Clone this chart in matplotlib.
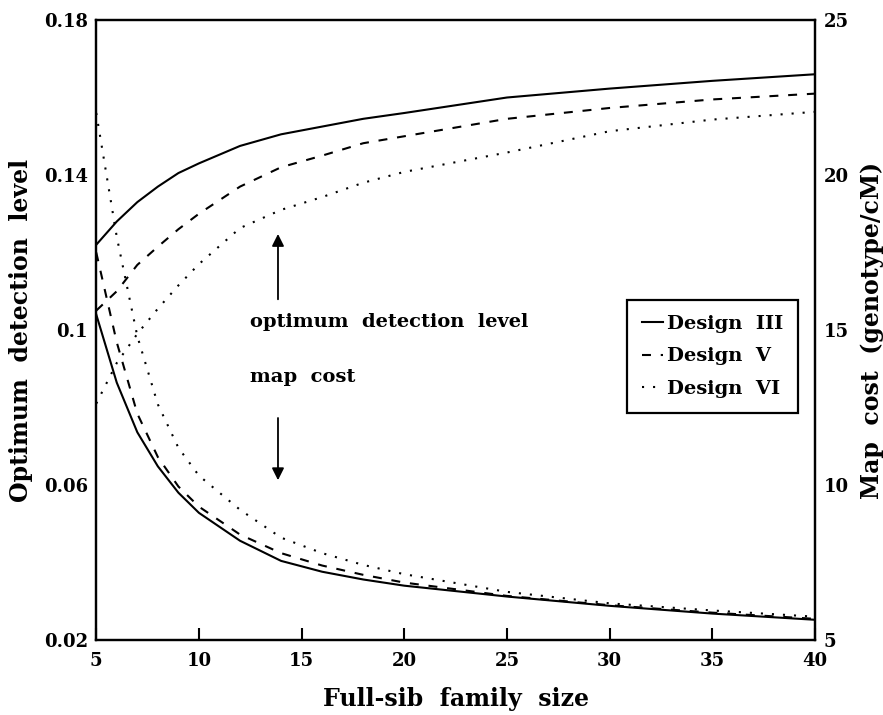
import matplotlib
matplotlib.use('Agg')
import matplotlib.pyplot as plt

plt.rcParams['font.family'] = 'DejaVu Serif'
plt.rcParams['font.weight'] = 'bold'

# family size (x) and the three designs
size = [5, 6, 7, 8, 9, 10, 12, 14, 16, 18, 20, 25, 30, 35, 40]
labels = ['Design  III', 'Design  V', 'Design  VI']

# optimum detection level (left axis)
det_III = [0.122, 0.128, 0.133, 0.137, 0.1405, 0.143, 0.1475, 0.1505, 0.1525,
           0.1545, 0.156, 0.160, 0.1623, 0.1643, 0.166]
det_V = [0.105, 0.110, 0.1168, 0.1215, 0.126, 0.130, 0.137, 0.142, 0.145,
         0.1482, 0.150, 0.1545, 0.1573, 0.1595, 0.161]
det_VI = [0.081, 0.0915, 0.099, 0.1055, 0.1115, 0.117, 0.1263, 0.131, 0.1343,
          0.138, 0.1408, 0.1458, 0.1513, 0.1543, 0.1563]

# map cost, genotype/cM (right axis)
cost_III = [15.5, 13.3, 11.7, 10.6, 9.75, 9.1, 8.2, 7.55, 7.2, 6.95, 6.75,
            6.4, 6.1, 5.85, 5.65]
cost_V = [17.5, 14.6, 12.3, 10.9, 9.95, 9.3, 8.4, 7.8, 7.4, 7.1, 6.85,
          6.42, 6.12, 5.88, 5.68]
cost_VI = [22.0, 18.0, 14.8, 12.6, 11.2, 10.3, 9.2, 8.3, 7.8, 7.42, 7.12,
           6.55, 6.18, 5.95, 5.75]

styles = ['-', (0, (4.3, 4.7)), (0, (1, 4.3))]
lw = 1.5

fig = plt.figure(figsize=(8.83, 7.15), dpi=100)
ax = fig.add_axes([0.109, 0.105, 0.814, 0.867])
ax2 = ax.twinx()

for dets, st, lab in zip([det_III, det_V, det_VI], styles, labels):
    ax.plot(size, dets, color='black', linestyle=st, linewidth=lw, label=lab)
for costs, st in zip([cost_III, cost_V, cost_VI], styles):
    ax2.plot(size, costs, color='black', linestyle=st, linewidth=lw)

ax.set_xlim(5, 40)
ax.set_ylim(0.02, 0.18)
ax2.set_ylim(5, 25)
ax.set_xticks([5, 10, 15, 20, 25, 30, 35, 40])
ax.set_yticks([0.02, 0.06, 0.1, 0.14, 0.18])
ax.set_yticklabels(['0.02', '0.06', '0.1', '0.14', '0.18'])
ax2.set_yticks([5, 10, 15, 20, 25])

ax.tick_params(axis='x', direction='in', length=9, width=1.5, labelsize=13, pad=9)
ax.tick_params(axis='y', length=0, labelsize=13, pad=6)
ax2.tick_params(axis='y', length=0, labelsize=13, pad=6)
for a in (ax, ax2):
    for sp in a.spines.values():
        sp.set_linewidth(1.6)

ax.set_xlabel('Full-sib  family  size', fontsize=17, fontweight='bold', labelpad=12)
ax.set_ylabel('Optimum  detection  level', fontsize=17, fontweight='bold', labelpad=8)
ax2.set_ylabel('Map  cost  (genotype/cM)', fontsize=17, fontweight='bold', labelpad=8)

# annotations
ax.text(12.5, 0.102, 'optimum  detection  level', fontsize=14, va='center')
ax.text(12.5, 0.0879, 'map  cost', fontsize=14, va='center')
ax.annotate('', xy=(13.85, 0.1255), xytext=(13.85, 0.1072),
            arrowprops=dict(arrowstyle='-|>', color='black', lw=1.3,
                            mutation_scale=18))
ax.annotate('', xy=(13.85, 0.0605), xytext=(13.85, 0.078),
            arrowprops=dict(arrowstyle='-|>', color='black', lw=1.3,
                            mutation_scale=18))

leg = ax.legend(loc='upper left', bbox_to_anchor=(0.7385, 0.548), fontsize=14,
                handlelength=1.1, handletextpad=0.2, fancybox=False,
                edgecolor='black', framealpha=1, borderpad=0.75,
                labelspacing=0.75, borderaxespad=0)
leg.get_frame().set_linewidth(1.6)

fig.savefig('out.png', dpi=100)
